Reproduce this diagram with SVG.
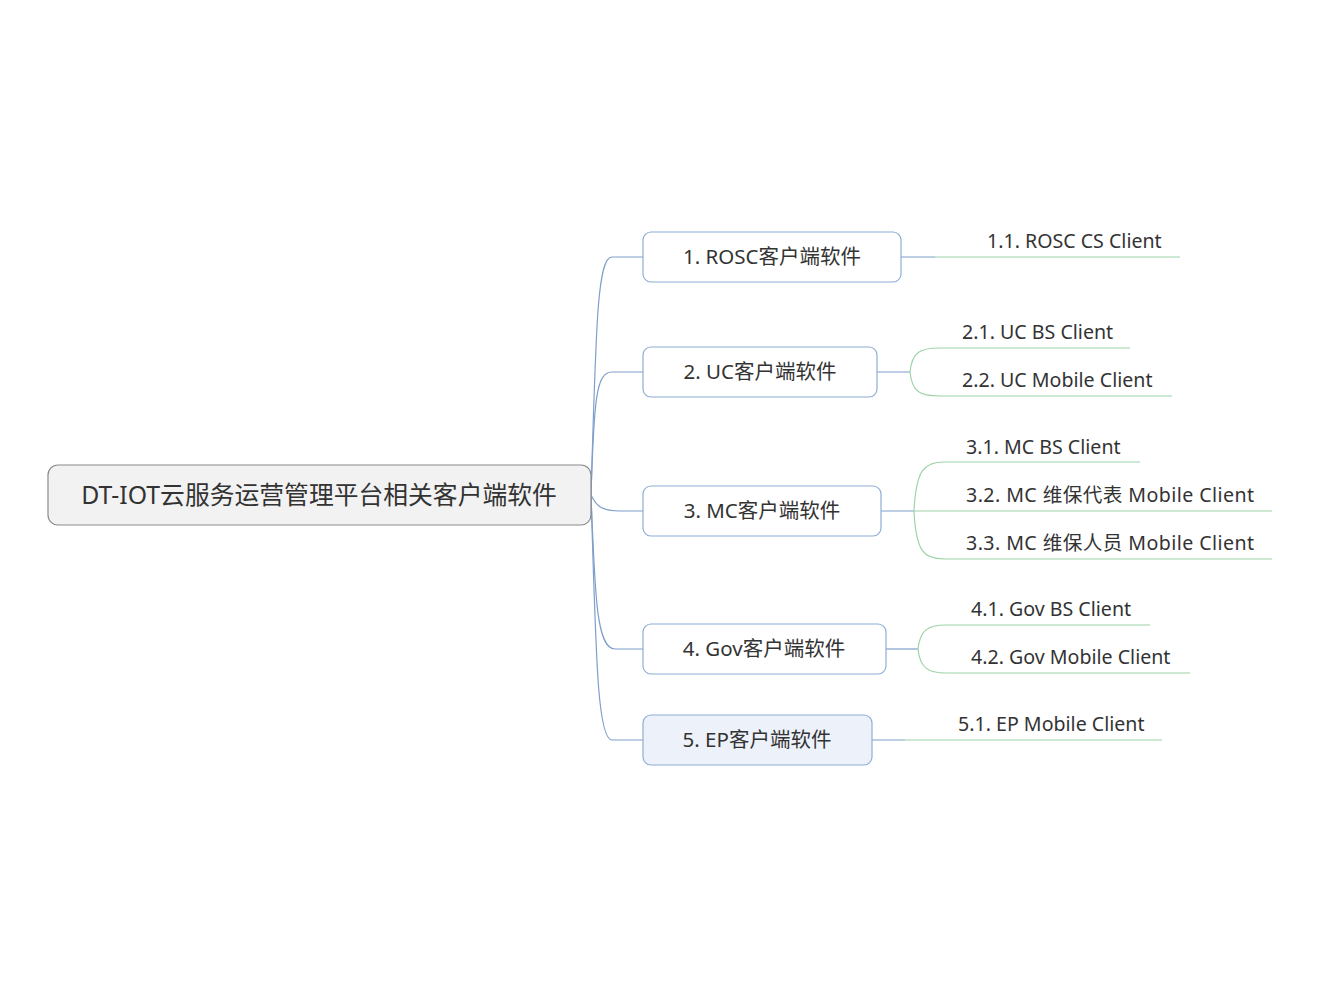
<svg xmlns="http://www.w3.org/2000/svg" width="1320" height="990" viewBox="0 0 1320 990">
<style>
.t{font-family:"Noto Sans","Noto Sans CJK SC",sans-serif;fill:#333333}
.root{fill:#f2f2f2;stroke:#8a8a8a;stroke-width:1.2}
.b1{fill:#ffffff;stroke:#8eaed6;stroke-width:1.2}
.b1s{fill:#edf2fa;stroke:#8eaed6;stroke-width:1.2}
.cb{fill:none;stroke:#7f9fcb;stroke-width:1.2}
.cg{fill:none;stroke:#9ed3a8;stroke-width:1.2}
.l1{font-size:20.5px}
.l2{font-size:19.6px}
</style>
<rect width="1320" height="990" fill="#ffffff"/>
<g id="connectors">
  <path class="cb" d="M591,495 C596,330 597,257 612,257 L643,257"/>
  <path class="cb" d="M591,495 C594,400 596,372 612,372 L643,372"/>
  <path class="cb" d="M591,495 C596,505 600,511 620,511 L643,511"/>
  <path class="cb" d="M591,495 C595,600 597,649 615,649 L643,649"/>
  <path class="cb" d="M591,495 C596,650 597,740 612,740 L643,740"/>
  <path class="cb" d="M901,257 L935,257"/>
  <path class="cg" d="M935,257 L1180,257"/>
  <path class="cb" d="M877,372 L910,372"/>
  <path class="cg" d="M910,372 C912,352 920,348 940,348 L1130,348"/>
  <path class="cg" d="M910,372 C912,392 920,396 940,396 L1172,396"/>
  <path class="cb" d="M881,511 L914,511"/>
  <path class="cg" d="M914,511 C916,470 924,462 944,462 L1140,462"/>
  <path class="cg" d="M914,511 L1272,511"/>
  <path class="cg" d="M914,511 C916,552 924,559 944,559 L1272,559"/>
  <path class="cb" d="M886,649 L918,649"/>
  <path class="cg" d="M918,649 C920,630 928,625 946,625 L1150,625"/>
  <path class="cg" d="M918,649 C920,668 928,673 946,673 L1190,673"/>
  <path class="cb" d="M872,740 L905,740"/>
  <path class="cg" d="M905,740 L1162,740"/>
</g>
<g id="root">
  <rect class="root" x="48" y="465" width="543" height="60" rx="10"/>
  <text class="t" x="319" y="504" font-size="24.8" text-anchor="middle">DT-IOT云服务运营管理平台相关客户端软件</text>
</g>
<g id="n1">
  <rect class="b1" x="643" y="232" width="258" height="50" rx="8"/>
  <text class="t l1" x="772" y="264" text-anchor="middle">1. ROSC客户端软件</text>
</g>
<g id="n2">
  <rect class="b1" x="643" y="347" width="234" height="50" rx="8"/>
  <text class="t l1" x="760" y="379" text-anchor="middle">2. UC客户端软件</text>
</g>
<g id="n3">
  <rect class="b1" x="643" y="486" width="238" height="50" rx="8"/>
  <text class="t l1" x="762" y="518" text-anchor="middle">3. MC客户端软件</text>
</g>
<g id="n4">
  <rect class="b1" x="643" y="624" width="243" height="50" rx="8"/>
  <text class="t l1" x="764" y="656" text-anchor="middle">4. Gov客户端软件</text>
</g>
<g id="n5">
  <rect class="b1s" x="643" y="715" width="229" height="50" rx="8"/>
  <text class="t l1" x="757" y="747" text-anchor="middle">5. EP客户端软件</text>
</g>
<g id="n1_1"><text class="t l2" x="987" y="248">1.1. ROSC CS Client</text></g>
<g id="n2_1"><text class="t l2" x="962" y="339">2.1. UC BS Client</text></g>
<g id="n2_2"><text class="t l2" x="962" y="387">2.2. UC Mobile Client</text></g>
<g id="n3_1"><text class="t l2" x="966" y="454">3.1. MC BS Client</text></g>
<g id="n3_2"><text class="t l2" x="966" y="502" textLength="288" lengthAdjust="spacing">3.2. MC 维保代表 Mobile Client</text></g>
<g id="n3_3"><text class="t l2" x="966" y="550" textLength="288" lengthAdjust="spacing">3.3. MC 维保人员 Mobile Client</text></g>
<g id="n4_1"><text class="t l2" x="971" y="616">4.1. Gov BS Client</text></g>
<g id="n4_2"><text class="t l2" x="971" y="664">4.2. Gov Mobile Client</text></g>
<g id="n5_1"><text class="t l2" x="958" y="731">5.1. EP Mobile Client</text></g>
</svg>
